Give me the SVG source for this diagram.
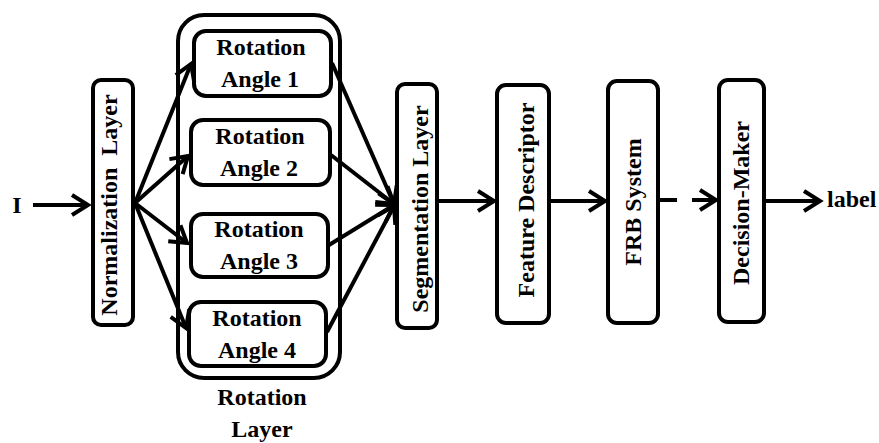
<svg xmlns="http://www.w3.org/2000/svg" width="879" height="443" viewBox="0 0 879 443">
  <style>
    .box { fill: #fff; stroke: #000; stroke-width: 4; }
    .lbl { font-family: "Liberation Serif", "Times New Roman", serif; font-weight: bold; font-size: 24px; fill: #000; }
    .mid { text-anchor: middle; }
    .wire { stroke: #000; stroke-width: 4; fill: none; }
  </style>
  <defs>
    <marker id="arrow" markerUnits="userSpaceOnUse" viewBox="-22 -14 26 28" refX="0" refY="0" markerWidth="26" markerHeight="28" orient="auto">
      <path d="M-16,-10 L0,0 L-16,10" fill="none" stroke="#000" stroke-width="4" stroke-linejoin="miter"/>
    </marker>
  </defs>
  <rect width="879" height="443" fill="#fff"/>

  <!-- input label -->
  <text class="lbl mid" x="17" y="213" font-size="22">I</text>

  <g id="normalization">
    <rect class="box" x="93" y="80" width="40" height="245" rx="8"/>
    <text class="lbl mid" transform="translate(117,205) rotate(-90)" xml:space="preserve">Normalization  Layer</text>
  </g>

  <g id="rotation-layer">
    <rect class="box" x="178" y="15" width="162" height="363" rx="26"/>
    <text class="lbl mid" x="262" y="405">Rotation</text>
    <text class="lbl mid" x="262" y="437">Layer</text>
  </g>

  <g id="angle1">
    <rect class="box" x="194" y="31" width="137" height="65" rx="12"/>
    <text class="lbl mid" x="261" y="55">Rotation</text>
    <text class="lbl mid" x="260" y="87">Angle 1</text>
  </g>
  <g id="angle2">
    <rect class="box" x="191" y="120" width="139" height="65" rx="12"/>
    <text class="lbl mid" x="260" y="144">Rotation</text>
    <text class="lbl mid" x="259" y="176">Angle 2</text>
  </g>
  <g id="angle3">
    <rect class="box" x="191" y="214" width="137" height="63" rx="12"/>
    <text class="lbl mid" x="259" y="237">Rotation</text>
    <text class="lbl mid" x="259" y="269">Angle 3</text>
  </g>
  <g id="angle4">
    <rect class="box" x="189" y="302" width="137" height="64" rx="12"/>
    <text class="lbl mid" x="257" y="326">Rotation</text>
    <text class="lbl mid" x="257" y="358">Angle 4</text>
  </g>

  <g id="segmentation">
    <rect class="box" x="397" y="84" width="40" height="244" rx="8"/>
    <text class="lbl mid" transform="translate(428,209) rotate(-90)">Segmentation Layer</text>
  </g>

  <g id="feature-descriptor">
    <rect class="box" x="497" y="85" width="52" height="238" rx="9"/>
    <text class="lbl mid" transform="translate(534,200) rotate(-90)">Feature Descriptor</text>
  </g>

  <g id="frb-system">
    <rect class="box" x="608" y="81" width="50" height="242" rx="9"/>
    <text class="lbl mid" transform="translate(641,202) rotate(-90)">FRB System</text>
  </g>

  <g id="decision-maker">
    <rect class="box" x="719" y="80" width="45" height="242" rx="9"/>
    <text class="lbl mid" transform="translate(749,203) rotate(-90)">Decision-Maker</text>
  </g>

  <text class="lbl" x="827" y="207">label</text>

  <g id="connectors">
    <line class="wire" x1="33" y1="205" x2="88" y2="205" marker-end="url(#arrow)"/>
    <!-- fan-out to the four rotations -->
    <line class="wire" x1="135" y1="203" x2="191" y2="64" marker-end="url(#arrow)"/>
    <line class="wire" x1="135" y1="203" x2="188" y2="156" marker-end="url(#arrow)"/>
    <line class="wire" x1="135" y1="203" x2="187" y2="243" marker-end="url(#arrow)"/>
    <line class="wire" x1="135" y1="203" x2="186" y2="328" marker-end="url(#arrow)"/>
    <!-- fan-in to segmentation -->
    <line class="wire" x1="332" y1="63" x2="394" y2="204" marker-end="url(#arrow)"/>
    <line class="wire" x1="331" y1="155" x2="394" y2="204" marker-end="url(#arrow)"/>
    <line class="wire" x1="329" y1="245" x2="394" y2="205" marker-end="url(#arrow)"/>
    <line class="wire" x1="327" y1="332" x2="394" y2="206" marker-end="url(#arrow)"/>
    <!-- main pipeline -->
    <line class="wire" x1="439" y1="201" x2="494" y2="201" marker-end="url(#arrow)"/>
    <line class="wire" x1="551" y1="201" x2="605" y2="201" marker-end="url(#arrow)"/>
    <line class="wire" x1="660" y1="200" x2="677" y2="200"/>
    <line class="wire" x1="692" y1="200" x2="716" y2="200" marker-end="url(#arrow)"/>
    <line class="wire" x1="766" y1="201" x2="820" y2="201" marker-end="url(#arrow)"/>
  </g>
</svg>
